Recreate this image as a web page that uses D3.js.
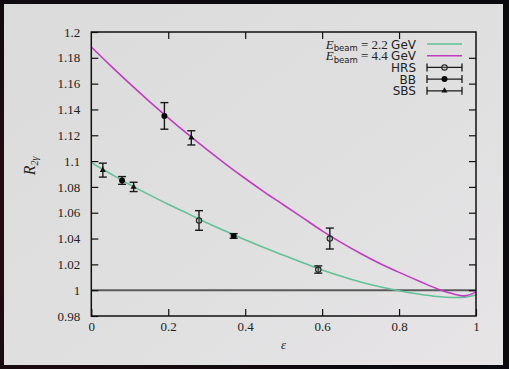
<!DOCTYPE html>
<html>
<head>
<meta charset="utf-8">
<script src="https://cdn.jsdelivr.net/npm/d3@7"></script>
<style>
  html, body { margin: 0; padding: 0; background: #0c0a0e; }
  svg { display: block; }
</style>
</head>
<body>
<div id="js-canvas"></div>
<script>
"use strict";

// curve sample points
const epsCurve = [0, 0.05, 0.1, 0.15, 0.2, 0.25, 0.3, 0.35, 0.4, 0.45, 0.5, 0.55,
                  0.6, 0.65, 0.7, 0.75, 0.8, 0.85, 0.9, 0.94, 0.97, 1.0];
const r22 = [1.0988, 1.0902, 1.0818, 1.0740, 1.0665, 1.0595, 1.0522, 1.0456, 1.0390,
             1.0328, 1.0270, 1.0213, 1.0157, 1.0108, 1.0064, 1.0027, 0.9996, 0.9971,
             0.9951, 0.9943, 0.9946, 0.9963];
const r44 = [1.1884, 1.1740, 1.1600, 1.1465, 1.1335, 1.1210, 1.1090, 1.0975, 1.0865,
             1.0760, 1.0660, 1.0560, 1.0460, 1.0368, 1.0284, 1.0207, 1.0138, 1.0073,
             1.0010, 0.9972, 0.9956, 0.9985];

// data points
const hrsEps = [0.28, 0.59, 0.62];
const hrsR = [1.054, 1.016, 1.040];
const hrsErr = [0.0076, 0.0028, 0.0081];

const bbEps = [0.08, 0.19, 0.37];
const bbR = [1.085, 1.135, 1.042];
const bbErr = [0.003, 0.0103, 0.0018];

const sbsEps = [0.03, 0.11, 0.26];
const sbsR = [1.093, 1.080, 1.118];
const sbsErr = [0.0054, 0.0036, 0.0055];

const xTicks = [0, 0.2, 0.4, 0.6, 0.8, 1];
const yTicks = [0.98, 1, 1.02, 1.04, 1.06, 1.08, 1.1, 1.12, 1.14, 1.16, 1.18, 1.2];

const width = 509;
const height = 369;
const green = "#62c197";
const magenta = "#c03cc0";
const serif = "'Liberation Serif', 'DejaVu Serif', serif";
const sans = "'DejaVu Sans', 'Liberation Sans', sans-serif";

function createCanvas(w, h) {
  return d3.select("#js-canvas")
    .append("svg")
      .attr("width", w)
      .attr("height", h);
}

const svg = createCanvas(width, height);

// dark backdrop + light panel
const defs = svg.append("defs");
const glow = defs.append("radialGradient").attr("id", "glow")
  .attr("cx", "0.1").attr("cy", "0.6").attr("r", "0.7");
glow.append("stop").attr("offset", "0").attr("stop-color", "#2a0c10");
glow.append("stop").attr("offset", "1").attr("stop-color", "#0b0a0f");
const panelGrad = defs.append("linearGradient").attr("id", "panel")
  .attr("x1", "0").attr("y1", "0").attr("x2", "1").attr("y2", "1");
panelGrad.append("stop").attr("offset", "0").attr("stop-color", "#dbdbdb");
panelGrad.append("stop").attr("offset", "0.6").attr("stop-color", "#e0e0e1");
panelGrad.append("stop").attr("offset", "1").attr("stop-color", "#e7e4e6");

svg.append("rect").attr("width", width).attr("height", height).attr("fill", "url(#glow)");
svg.append("rect")
  .attr("x", 4).attr("y", 4).attr("width", 499).attr("height", 361)
  .attr("fill", "url(#panel)");

const x = d3.scaleLinear().domain([0, 1]).range([91.3, 476]);
const y = d3.scaleLinear().domain([0.98, 1.2]).range([316, 32]);

const g = svg.append("g");

// reference line at 1
g.append("line")
  .attr("x1", x(0)).attr("x2", x(1))
  .attr("y1", y(1)).attr("y2", y(1))
  .attr("stroke", "#5a5a5a").attr("stroke-width", 2);

// curves
const line = d3.line()
  .x(function (d) { return x(d[0]); })
  .y(function (d) { return y(d[1]); })
  .curve(d3.curveCatmullRom.alpha(0.5));

function drawCurve(vals, color) {
  g.append("path")
    .datum(epsCurve.map(function (e, i) { return [e, vals[i]]; }))
    .attr("fill", "none")
    .attr("stroke", color)
    .attr("stroke-width", 1.6)
    .attr("d", line);
}
drawCurve(r22, green);
drawCurve(r44, magenta);

// markers
function marker(sel, kind) {
  if (kind === "tri") {
    sel.append("path")
      .attr("d", d3.symbol().type(d3.symbolTriangle).size(16))
      .attr("fill", "#111");
  } else if (kind === "bb") {
    sel.append("circle").attr("r", 3).attr("fill", "#0a0a0a");
  } else {
    sel.append("circle").attr("r", 2.7)
      .attr("fill", "#9a9a9a").attr("fill-opacity", 0.35)
      .attr("stroke", "#222").attr("stroke-width", 1.1);
  }
}

function drawSet(epsArr, rArr, errArr, kind) {
  const pts = epsArr.map(function (e, i) { return { e: e, r: rArr[i], err: errArr[i] }; });
  const grp = g.append("g").selectAll("g").data(pts).enter().append("g");
  grp.append("line")
    .attr("x1", function (d) { return x(d.e); })
    .attr("x2", function (d) { return x(d.e); })
    .attr("y1", function (d) { return y(d.r - d.err); })
    .attr("y2", function (d) { return y(d.r + d.err); })
    .attr("stroke", "#1a1a1a").attr("stroke-width", 1.4);
  [-1, 1].forEach(function (s) {
    grp.append("line")
      .attr("x1", function (d) { return x(d.e) - 4; })
      .attr("x2", function (d) { return x(d.e) + 4; })
      .attr("y1", function (d) { return y(d.r + s * d.err); })
      .attr("y2", function (d) { return y(d.r + s * d.err); })
      .attr("stroke", "#1a1a1a").attr("stroke-width", 1.4);
  });
  grp.append("g")
    .attr("transform", function (d) { return "translate(" + x(d.e) + "," + y(d.r) + ")"; })
    .each(function () { marker(d3.select(this), kind); });
}
drawSet(hrsEps, hrsR, hrsErr, "hrs");
drawSet(bbEps, bbR, bbErr, "bb");
drawSet(sbsEps, sbsR, sbsErr, "tri");

// axes, gnuplot style (ticks inward, mirrored)
function styleAxis(a) {
  a.attr("font-family", null).attr("font-size", null);
  a.select(".domain").remove();
  a.selectAll(".tick line").attr("stroke", "#111").attr("stroke-width", 1.2);
  a.selectAll("text")
    .style("font-family", serif).style("font-size", "13px").attr("fill", "#222");
}
styleAxis(svg.append("g").attr("transform", "translate(" + x(0) + ",0)")
  .call(d3.axisLeft(y).tickValues(yTicks).tickSize(-7).tickPadding(11)
    .tickFormat(function (d) { return d3.format("")(+d.toFixed(2)); })));
styleAxis(svg.append("g").attr("transform", "translate(" + x(1) + ",0)")
  .call(d3.axisRight(y).tickValues(yTicks.slice(1, -1)).tickSize(-7).tickFormat("")));
styleAxis(svg.append("g").attr("transform", "translate(0," + y(0.98) + ")")
  .call(d3.axisBottom(x).tickValues(xTicks).tickSize(-7).tickPadding(6)
    .tickFormat(function (d) { return d3.format("")(+d.toFixed(1)); })));
styleAxis(svg.append("g").attr("transform", "translate(0," + y(1.2) + ")")
  .call(d3.axisTop(x).tickValues(xTicks.slice(1, -1)).tickSize(-7).tickFormat("")));

// frame
svg.append("rect")
  .attr("x", x(0)).attr("y", y(1.2))
  .attr("width", x(1) - x(0)).attr("height", y(0.98) - y(1.2))
  .attr("fill", "none").attr("stroke", "#111").attr("stroke-width", 1.5);

// axis titles
const yl = svg.append("text")
  .attr("transform", "translate(35,166) rotate(-90)")
  .attr("text-anchor", "middle")
  .attr("font-family", serif).attr("font-style", "italic").attr("fill", "#222")
  .attr("font-size", 16);
yl.append("tspan").text("R");
yl.append("tspan").attr("font-size", 10).attr("dy", 3).text("2γ");

svg.append("text")
  .attr("x", x(0.5)).attr("y", 349)
  .attr("text-anchor", "middle")
  .attr("font-family", serif).attr("font-style", "italic").attr("fill", "#222")
  .attr("font-size", 13).text("ε");

// legend
const legEnergies = ["2.2", "4.4"];
const legColors = [green, magenta];
const legSets = ["HRS", "BB", "SBS"];
const legKinds = ["hrs", "bb", "tri"];
const legY0 = 44;
const legStep = 11.7;
const lx0 = 427, lx1 = 462, textX = 416;

legEnergies.forEach(function (en, i) {
  const yy = legY0 + i * legStep;
  const t = svg.append("text").attr("x", textX).attr("y", yy + 4.5)
    .attr("text-anchor", "end").attr("fill", "#222").attr("font-size", 13);
  t.append("tspan").attr("font-family", serif).attr("font-style", "italic").text("E");
  t.append("tspan").attr("font-family", sans).attr("font-size", 8.5).attr("dy", 2.5).text("beam");
  t.append("tspan").attr("font-family", serif).attr("dy", -2.5).text(" = " + en + " ");
  t.append("tspan").attr("font-family", sans).attr("font-size", 12).text("GeV");
  svg.append("line").attr("x1", lx0).attr("x2", lx1).attr("y1", yy).attr("y2", yy)
    .attr("stroke", legColors[i]).attr("stroke-width", 1.6);
});

legSets.forEach(function (name, i) {
  const yy = legY0 + (i + 2) * legStep;
  svg.append("text").attr("x", textX).attr("y", yy + 4.5)
    .attr("text-anchor", "end").attr("fill", "#222")
    .attr("font-family", sans).attr("font-size", 12).text(name);
  svg.append("line").attr("x1", lx0).attr("x2", lx1).attr("y1", yy).attr("y2", yy)
    .attr("stroke", "#1a1a1a").attr("stroke-width", 1.3);
  [lx0, lx1].forEach(function (cx) {
    svg.append("line").attr("x1", cx).attr("x2", cx).attr("y1", yy - 4).attr("y2", yy + 4)
      .attr("stroke", "#1a1a1a").attr("stroke-width", 1.3);
  });
  marker(svg.append("g").attr("transform", "translate(" + (lx0 + lx1) / 2 + "," + yy + ")"), legKinds[i]);
});
</script>
</body>
</html>
